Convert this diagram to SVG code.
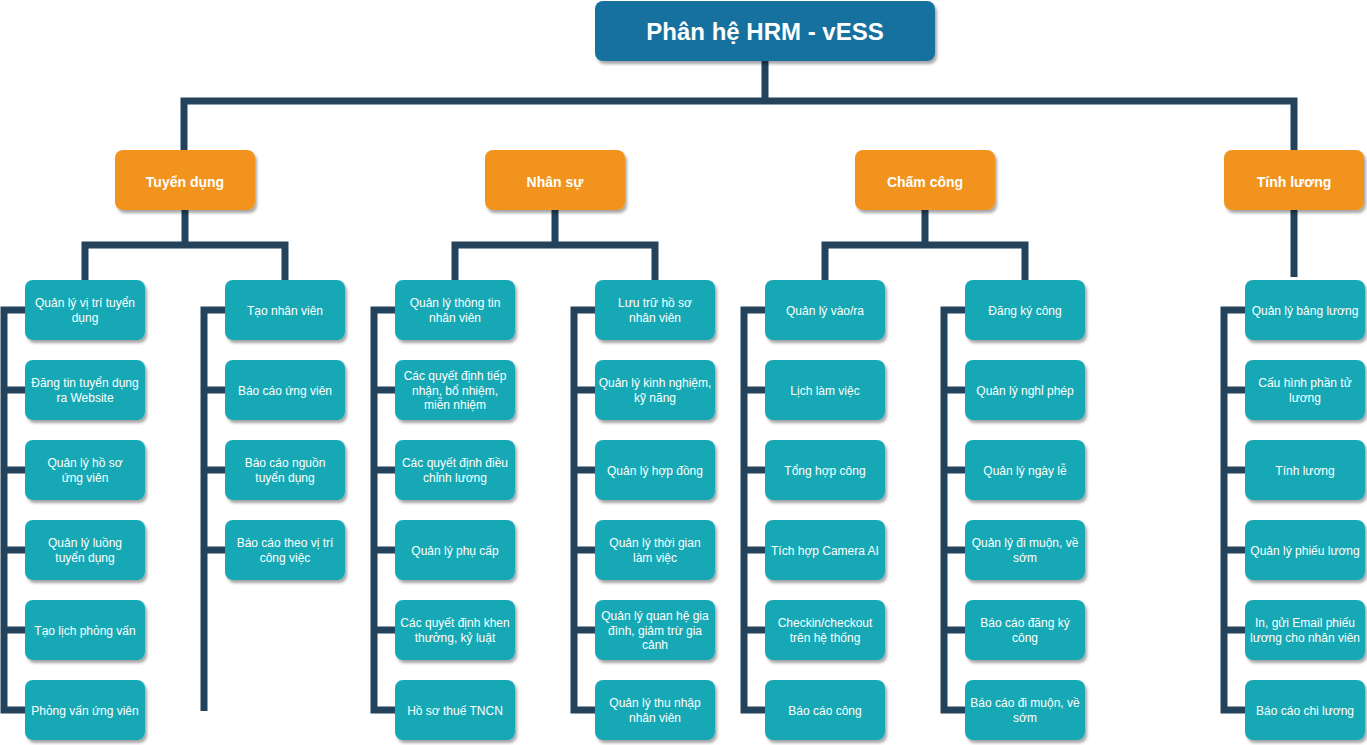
<svg xmlns="http://www.w3.org/2000/svg" width="1367" height="745" viewBox="0 0 1367 745">
<defs>
<filter id="sh" x="-10%" y="-10%" width="125%" height="135%">
<feDropShadow dx="2" dy="3" stdDeviation="1.5" flood-color="#000" flood-opacity="0.35"/>
</filter>
<style>
.root{fill:#15719f;filter:url(#sh)}
.l1{fill:#f1931f;filter:url(#sh)}
.l2{fill:#14a9b5;filter:url(#sh)}
.c{fill:none;stroke:#23435d;stroke-width:7;stroke-linejoin:miter}
text{font-family:"Liberation Sans",Arial,sans-serif;fill:#fff;text-anchor:middle}
.t0{font-size:24px;font-weight:bold}
.t1{font-size:14px;font-weight:bold}
.t2{font-size:12px}
</style>
</defs>
<rect width="1367" height="745" fill="#fff"/>
<g id="connectors">
<path class="c" d="M765 60V101M184 150V101H1294V150"/>
<path class="c" d="M85 280V245H285V280M185 210V245"/>
<path class="c" d="M455 280V245H655V280M555 210V245"/>
<path class="c" d="M825 280V245H1025V280M925 210V245"/>
<path class="c" d="M1294 210V277"/>
<path class="c" d="M25 310H4V710H25M4 390H25M4 470H25M4 550H25M4 630H25"/>
<path class="c" d="M225 310H204V711M204 390H225M204 470H225M204 550H225"/>
<path class="c" d="M395 310H374V710H395M374 390H395M374 470H395M374 550H395M374 630H395"/>
<path class="c" d="M595 310H574V710H595M574 390H595M574 470H595M574 550H595M574 630H595"/>
<path class="c" d="M765 310H744V710H765M744 390H765M744 470H765M744 550H765M744 630H765"/>
<path class="c" d="M965 310H944V710H965M944 390H965M944 470H965M944 550H965M944 630H965"/>
<path class="c" d="M1245 310H1224V710H1245M1224 390H1245M1224 470H1245M1224 550H1245M1224 630H1245"/>
</g>
<g id="root"><rect class="root" x="595" y="1" width="340" height="60" rx="8"/><text class="t0" x="765" y="39.5">Phân hệ HRM - vESS</text></g>
<g id="tuyen-dung"><rect class="l1" x="115" y="150" width="140" height="60" rx="8"/><text class="t1" x="185" y="186.5">Tuyển dụng</text></g>
<g id="nhan-su"><rect class="l1" x="485" y="150" width="140" height="60" rx="8"/><text class="t1" x="555" y="186.5">Nhân sự</text></g>
<g id="cham-cong"><rect class="l1" x="855" y="150" width="140" height="60" rx="8"/><text class="t1" x="925" y="186.5">Chấm công</text></g>
<g id="tinh-luong"><rect class="l1" x="1224" y="150" width="140" height="60" rx="8"/><text class="t1" x="1294" y="186.5">Tính lương</text></g>

<g id="td1"><rect class="l2" x="25" y="280" width="120" height="60" rx="8"/><text class="t2" x="85" y="307">Quản lý vị trí tuyển</text><text class="t2" x="85" y="322">dụng</text></g>
<g id="td2"><rect class="l2" x="25" y="360" width="120" height="60" rx="8"/><text class="t2" x="85" y="387">Đăng tin tuyển dụng</text><text class="t2" x="85" y="402">ra Website</text></g>
<g id="td3"><rect class="l2" x="25" y="440" width="120" height="60" rx="8"/><text class="t2" x="85" y="467">Quản lý hồ sơ</text><text class="t2" x="85" y="482">ứng viên</text></g>
<g id="td4"><rect class="l2" x="25" y="520" width="120" height="60" rx="8"/><text class="t2" x="85" y="547">Quản lý luồng</text><text class="t2" x="85" y="562">tuyển dụng</text></g>
<g id="td5"><rect class="l2" x="25" y="600" width="120" height="60" rx="8"/><text class="t2" x="85" y="635">Tạo lịch phỏng vấn</text></g>
<g id="td6"><rect class="l2" x="25" y="680" width="120" height="60" rx="8"/><text class="t2" x="85" y="715">Phỏng vấn ứng viên</text></g>
<g id="td7"><rect class="l2" x="225" y="280" width="120" height="60" rx="8"/><text class="t2" x="285" y="315">Tạo nhân viên</text></g>
<g id="td8"><rect class="l2" x="225" y="360" width="120" height="60" rx="8"/><text class="t2" x="285" y="395">Báo cáo ứng viên</text></g>
<g id="td9"><rect class="l2" x="225" y="440" width="120" height="60" rx="8"/><text class="t2" x="285" y="467">Báo cáo nguồn</text><text class="t2" x="285" y="482">tuyển dụng</text></g>
<g id="td10"><rect class="l2" x="225" y="520" width="120" height="60" rx="8"/><text class="t2" x="285" y="547">Báo cáo theo vị trí</text><text class="t2" x="285" y="562">công việc</text></g>

<g id="ns1"><rect class="l2" x="395" y="280" width="120" height="60" rx="8"/><text class="t2" x="455" y="307">Quản lý thông tin</text><text class="t2" x="455" y="322">nhân viên</text></g>
<g id="ns2"><rect class="l2" x="395" y="360" width="120" height="60" rx="8"/><text class="t2" x="455" y="380">Các quyết định tiếp</text><text class="t2" x="455" y="394.5">nhận, bổ nhiệm,</text><text class="t2" x="455" y="409">miễn nhiệm</text></g>
<g id="ns3"><rect class="l2" x="395" y="440" width="120" height="60" rx="8"/><text class="t2" x="455" y="467">Các quyết định điều</text><text class="t2" x="455" y="482">chỉnh lương</text></g>
<g id="ns4"><rect class="l2" x="395" y="520" width="120" height="60" rx="8"/><text class="t2" x="455" y="555">Quản lý phụ cấp</text></g>
<g id="ns5"><rect class="l2" x="395" y="600" width="120" height="60" rx="8"/><text class="t2" x="455" y="627">Các quyết định khen</text><text class="t2" x="455" y="642">thưởng, kỷ luật</text></g>
<g id="ns6"><rect class="l2" x="395" y="680" width="120" height="60" rx="8"/><text class="t2" x="455" y="715">Hồ sơ thuế TNCN</text></g>
<g id="ns7"><rect class="l2" x="595" y="280" width="120" height="60" rx="8"/><text class="t2" x="655" y="307">Lưu trữ hồ sơ</text><text class="t2" x="655" y="322">nhân viên</text></g>
<g id="ns8"><rect class="l2" x="595" y="360" width="120" height="60" rx="8"/><text class="t2" x="655" y="387">Quản lý kinh nghiệm,</text><text class="t2" x="655" y="402">kỹ năng</text></g>
<g id="ns9"><rect class="l2" x="595" y="440" width="120" height="60" rx="8"/><text class="t2" x="655" y="475">Quản lý hợp đồng</text></g>
<g id="ns10"><rect class="l2" x="595" y="520" width="120" height="60" rx="8"/><text class="t2" x="655" y="547">Quản lý thời gian</text><text class="t2" x="655" y="562">làm việc</text></g>
<g id="ns11"><rect class="l2" x="595" y="600" width="120" height="60" rx="8"/><text class="t2" x="655" y="620">Quản lý quan hệ gia</text><text class="t2" x="655" y="634.5">đình, giảm trừ gia</text><text class="t2" x="655" y="649">cảnh</text></g>
<g id="ns12"><rect class="l2" x="595" y="680" width="120" height="60" rx="8"/><text class="t2" x="655" y="707">Quản lý thu nhập</text><text class="t2" x="655" y="722">nhân viên</text></g>

<g id="cc1"><rect class="l2" x="765" y="280" width="120" height="60" rx="8"/><text class="t2" x="825" y="315">Quản lý vào/ra</text></g>
<g id="cc2"><rect class="l2" x="765" y="360" width="120" height="60" rx="8"/><text class="t2" x="825" y="395">Lịch làm việc</text></g>
<g id="cc3"><rect class="l2" x="765" y="440" width="120" height="60" rx="8"/><text class="t2" x="825" y="475">Tổng hợp công</text></g>
<g id="cc4"><rect class="l2" x="765" y="520" width="120" height="60" rx="8"/><text class="t2" x="825" y="555">Tích hợp Camera AI</text></g>
<g id="cc5"><rect class="l2" x="765" y="600" width="120" height="60" rx="8"/><text class="t2" x="825" y="627">Checkin/checkout</text><text class="t2" x="825" y="642">trên hệ thống</text></g>
<g id="cc6"><rect class="l2" x="765" y="680" width="120" height="60" rx="8"/><text class="t2" x="825" y="715">Báo cáo công</text></g>
<g id="cc7"><rect class="l2" x="965" y="280" width="120" height="60" rx="8"/><text class="t2" x="1025" y="315">Đăng ký công</text></g>
<g id="cc8"><rect class="l2" x="965" y="360" width="120" height="60" rx="8"/><text class="t2" x="1025" y="395">Quản lý nghỉ phép</text></g>
<g id="cc9"><rect class="l2" x="965" y="440" width="120" height="60" rx="8"/><text class="t2" x="1025" y="475">Quản lý ngày lễ</text></g>
<g id="cc10"><rect class="l2" x="965" y="520" width="120" height="60" rx="8"/><text class="t2" x="1025" y="547">Quản lý đi muộn, về</text><text class="t2" x="1025" y="562">sớm</text></g>
<g id="cc11"><rect class="l2" x="965" y="600" width="120" height="60" rx="8"/><text class="t2" x="1025" y="627">Báo cáo đăng ký</text><text class="t2" x="1025" y="642">công</text></g>
<g id="cc12"><rect class="l2" x="965" y="680" width="120" height="60" rx="8"/><text class="t2" x="1025" y="707">Báo cáo đi muộn, về</text><text class="t2" x="1025" y="722">sớm</text></g>

<g id="tl1"><rect class="l2" x="1245" y="280" width="120" height="60" rx="8"/><text class="t2" x="1305" y="315">Quản lý bảng lương</text></g>
<g id="tl2"><rect class="l2" x="1245" y="360" width="120" height="60" rx="8"/><text class="t2" x="1305" y="387">Cấu hình phần tử</text><text class="t2" x="1305" y="402">lương</text></g>
<g id="tl3"><rect class="l2" x="1245" y="440" width="120" height="60" rx="8"/><text class="t2" x="1305" y="475">Tính lương</text></g>
<g id="tl4"><rect class="l2" x="1245" y="520" width="120" height="60" rx="8"/><text class="t2" x="1305" y="555">Quản lý phiếu lương</text></g>
<g id="tl5"><rect class="l2" x="1245" y="600" width="120" height="60" rx="8"/><text class="t2" x="1305" y="627">In, gửi Email phiếu</text><text class="t2" x="1305" y="642">lương cho nhân viên</text></g>
<g id="tl6"><rect class="l2" x="1245" y="680" width="120" height="60" rx="8"/><text class="t2" x="1305" y="715">Báo cáo chi lương</text></g>
</svg>
